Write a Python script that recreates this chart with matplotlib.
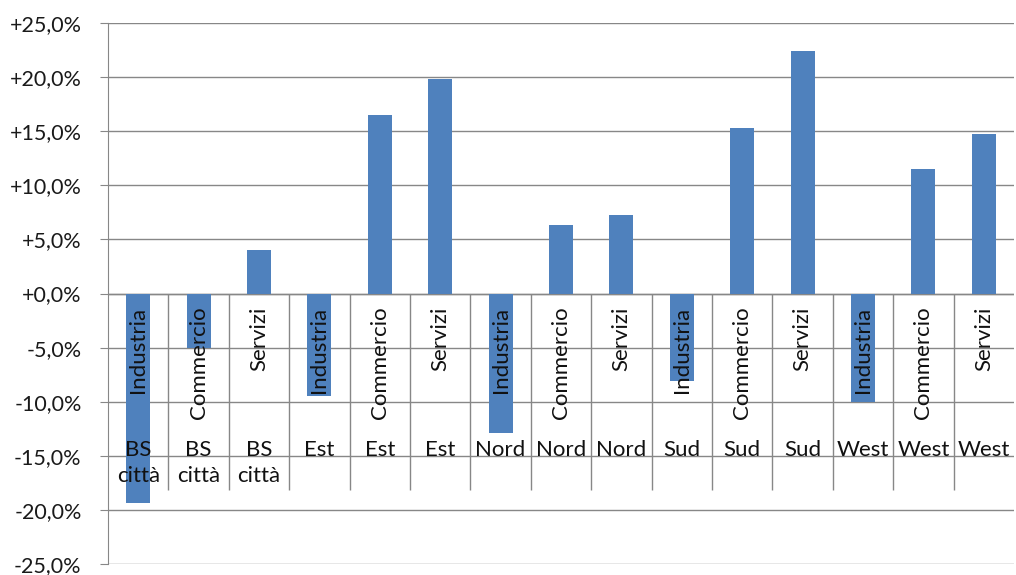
import numpy as np
import matplotlib
matplotlib.use("Agg")
import matplotlib.pyplot as plt
from matplotlib.ticker import FuncFormatter, FixedLocator

# === DATA ===
zones = ["BS\ncittà", "Est", "Nord", "Sud", "West"]
sectors = ["Industria", "Commercio", "Servizi"]
values = [
    -19.4, -5.0, 4.0,     # BS città
    -9.5, 16.5, 19.8,     # Est
    -12.9, 6.3, 7.3,      # Nord
    -8.1, 15.3, 22.4,     # Sud
    -10.0, 11.5, 14.7,    # West
]
y_ticks = [-25, -20, -15, -10, -5, 0, 5, 10, 15, 20, 25]

bar_color = "#4F81BD"
grid_color = "#878787"
plt.rcParams['font.family'] = ['Lato', 'DejaVu Sans']

fig = plt.figure(figsize=(10.16, 5.75), dpi=100)
ax = fig.add_axes([108 / 1016, 1 - 564 / 575, 906 / 1016, 541 / 575])

x = np.arange(len(values))
ax.bar(x, values, width=0.4, color=bar_color, zorder=3)

ax.set_xlim(-0.5, len(values) - 0.5)
ax.set_ylim(-25, 25)
ax.yaxis.set_major_locator(FixedLocator(y_ticks))
ax.yaxis.set_major_formatter(FuncFormatter(
    lambda v, p: ("+" if v >= 0 else "-") + f"{abs(v):.1f}".replace(".", ",") + "%"))
ax.tick_params(axis='y', labelsize=15.5, length=6, color=grid_color, pad=13, labelcolor="#1a1a1a")
ax.set_xticks([])
ax.grid(axis='y', color=grid_color, linewidth=1, zorder=0)

for s in ["top", "right", "bottom"]:
    ax.spines[s].set_visible(False)
ax.spines["left"].set_color(grid_color)
ax.axhline(0, color=grid_color, linewidth=1, zorder=2)

# category separators
ax.vlines(np.arange(len(values) - 1) + 0.5, -18.2, 0, color=grid_color, linewidth=1, zorder=2)

# labels
for i in range(len(values)):
    ax.text(i, -1.2, sectors[i % 3], rotation=90, ha='center', va='top',
            fontsize=16, color="#111111", zorder=4)
    ax.text(i, -13.5, zones[i // 3], ha='center', va='top', fontsize=16,
            color="#111111", linespacing=1.4, zorder=4)

fig.savefig("out.png", dpi=100)
